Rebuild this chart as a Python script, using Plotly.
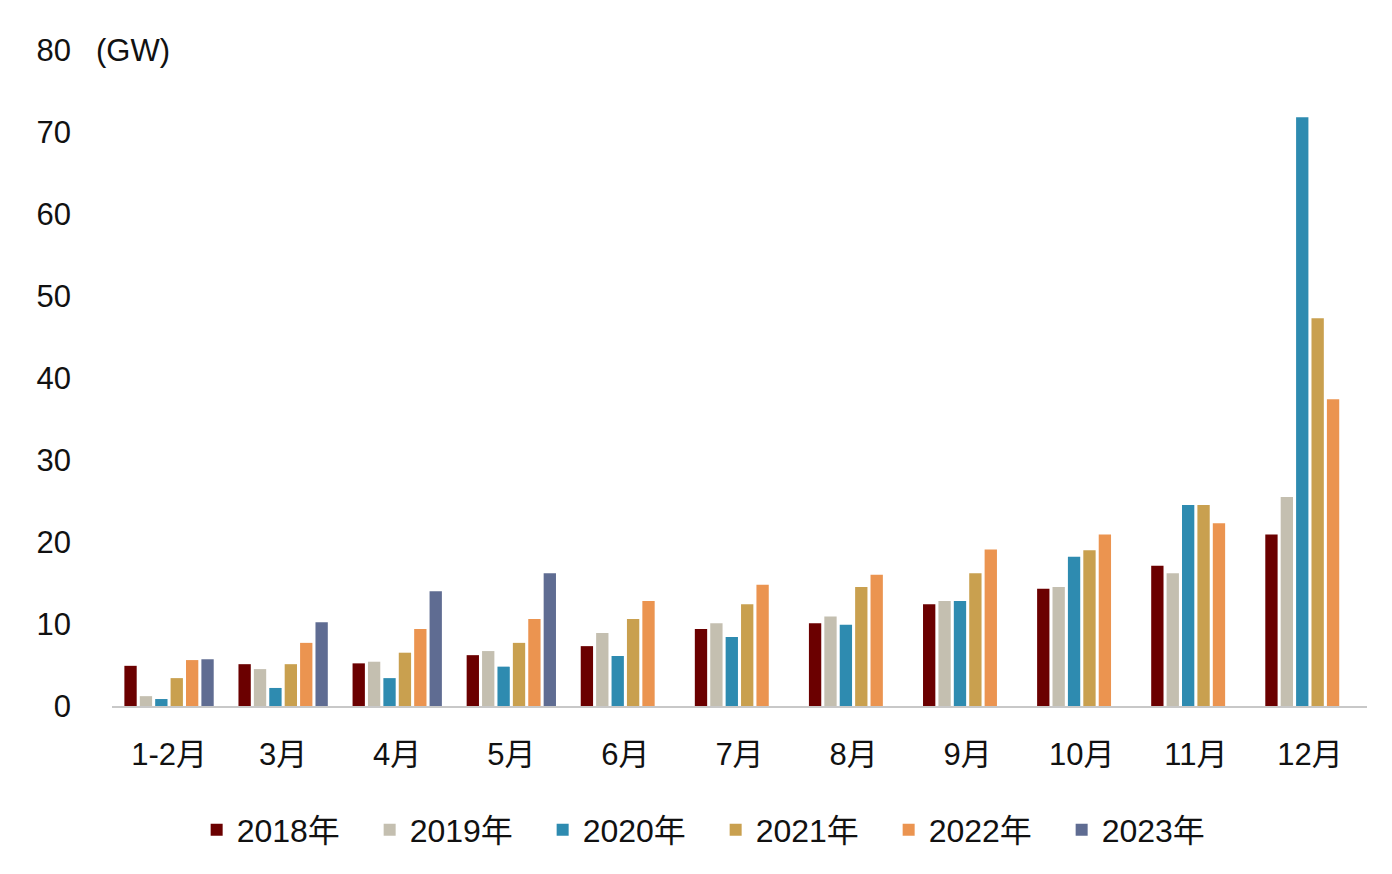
import plotly.graph_objects as go

months = ["1-2月", "3月", "4月", "5月", "6月", "7月", "8月", "9月", "10月", "11月", "12月"]

y2018 = [4.9, 5.1, 5.2, 6.2, 7.3, 9.4, 10.1, 12.4, 14.3, 17.1, 20.9]
y2019 = [1.2, 4.5, 5.4, 6.7, 8.9, 10.1, 10.9, 12.8, 14.5, 16.2, 25.5]
y2020 = [0.85, 2.2, 3.4, 4.8, 6.1, 8.4, 9.9, 12.8, 18.2, 24.5, 71.8]
y2021 = [3.4, 5.1, 6.5, 7.7, 10.6, 12.4, 14.5, 16.2, 19.0, 24.5, 47.3]
y2022 = [5.6, 7.7, 9.4, 10.6, 12.8, 14.8, 16.0, 19.1, 20.9, 22.3, 37.4]
y2023 = [5.7, 10.2, 14.0, 16.2, None, None, None, None, None, None, None]

series = [
    ("2018年", y2018, "#6b0000"),
    ("2019年", y2019, "#c4bfb0"),
    ("2020年", y2020, "#2e8bb0"),
    ("2021年", y2021, "#c9a04f"),
    ("2022年", y2022, "#eb9450"),
    ("2023年", y2023, "#5f6c92"),
]

font_family = "Liberation Sans, Arial, Noto Sans CJK SC, sans-serif"

fig = go.Figure()
for name, vals, color in series:
    fig.add_trace(go.Bar(x=months, y=vals, name=name, marker_color=color,
                         marker_line_width=0))

# page body has an 8px margin, so the margins are shifted to compensate
fig.update_layout(
    width=1392, height=874,
    barmode="group", bargap=0.19, bargroupgap=0.2,
    plot_bgcolor="white", paper_bgcolor="white",
    margin=dict(l=104, r=33, t=42, b=176),
    font=dict(family=font_family, size=31, color="#111111"),
    showlegend=True,
    legend=dict(orientation="h", x=0.481, xanchor="center", y=-0.189, yanchor="middle",
                font=dict(size=32), entrywidth=128, entrywidthmode="pixels",
                traceorder="normal"),
    annotations=[dict(text="(GW)", x=0, xref="paper", xshift=-18, y=80, yref="y",
                      xanchor="left", yanchor="middle", showarrow=False,
                      font=dict(size=31))],
)

fig.update_xaxes(showline=True, linecolor="#c8c8c8", linewidth=1.5, showgrid=False,
                 ticks="", ticklabelstandoff=20)
fig.update_yaxes(range=[0, 80], dtick=10, showgrid=False, zeroline=False, showline=False,
                 ticks="", ticklabelstandoff=40)

fig.write_html("out.html")
